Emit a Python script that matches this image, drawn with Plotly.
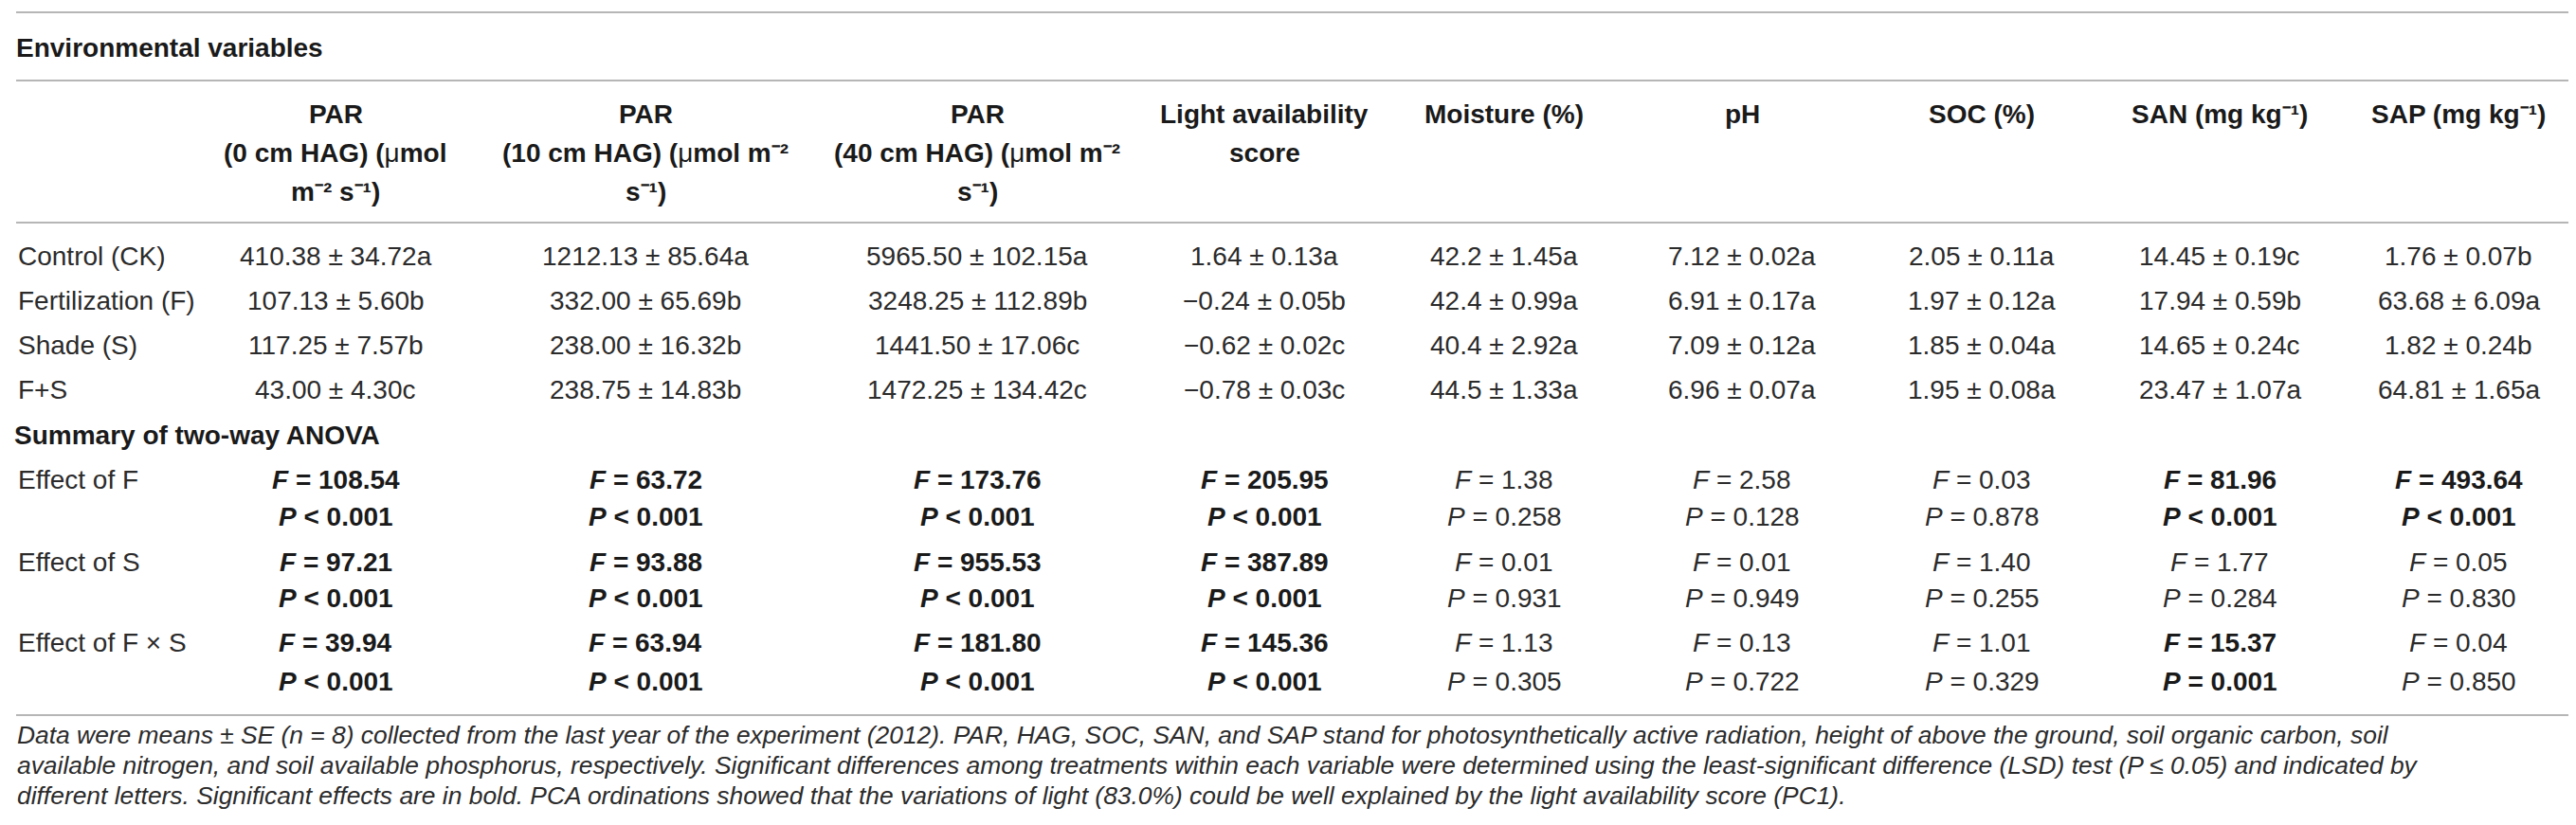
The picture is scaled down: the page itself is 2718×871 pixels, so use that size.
import plotly.graph_objects as go

# ---------------------------
# Data
# ---------------------------
TITLE = "Environmental variables"
SUMMARY_TITLE = "Summary of two-way ANOVA"

# each header cell split into its printed lines (μ is set in regular weight)
header_lines = [
    ["PAR", "(0 cm HAG) (|μ|mol", "m⁻² s⁻¹)"],
    ["PAR", "(10 cm HAG) (|μ|mol m⁻²", "s⁻¹)"],
    ["PAR", "(40 cm HAG) (|μ|mol m⁻²", "s⁻¹)"],
    ["Light availability", "score"],
    ["Moisture (%)"],
    ["pH"],
    ["SOC (%)"],
    ["SAN (mg kg⁻¹)"],
    ["SAP (mg kg⁻¹)"],
]

treatments = ["Control (CK)", "Fertilization (F)", "Shade (S)", "F+S"]

means = [
    ["410.38", "1212.13", "5965.50", "1.64", "42.2", "7.12", "2.05", "14.45", "1.76"],
    ["107.13", "332.00", "3248.25", "−0.24", "42.4", "6.91", "1.97", "17.94", "63.68"],
    ["117.25", "238.00", "1441.50", "−0.62", "40.4", "7.09", "1.85", "14.65", "1.82"],
    ["43.00", "238.75", "1472.25", "−0.78", "44.5", "6.96", "1.95", "23.47", "64.81"],
]
ses = [
    ["34.72", "85.64", "102.15", "0.13", "1.45", "0.02", "0.11", "0.19", "0.07"],
    ["5.60", "65.69", "112.89", "0.05", "0.99", "0.17", "0.12", "0.59", "6.09"],
    ["7.57", "16.32", "17.06", "0.02", "2.92", "0.12", "0.04", "0.24", "0.24"],
    ["4.30", "14.83", "134.42", "0.03", "1.33", "0.07", "0.08", "1.07", "1.65"],
]
letters = [
    ["a", "a", "a", "a", "a", "a", "a", "c", "b"],
    ["b", "b", "b", "b", "a", "a", "a", "b", "a"],
    ["b", "b", "c", "c", "a", "a", "a", "c", "b"],
    ["c", "b", "c", "c", "a", "a", "a", "a", "a"],
]

effects = ["Effect of F", "Effect of S", "Effect of F × S"]
f_values = [
    ["108.54", "63.72", "173.76", "205.95", "1.38", "2.58", "0.03", "81.96", "493.64"],
    ["97.21", "93.88", "955.53", "387.89", "0.01", "0.01", "1.40", "1.77", "0.05"],
    ["39.94", "63.94", "181.80", "145.36", "1.13", "0.13", "1.01", "15.37", "0.04"],
]
p_ops = [
    ["<", "<", "<", "<", "=", "=", "=", "<", "<"],
    ["<", "<", "<", "<", "=", "=", "=", "=", "="],
    ["<", "<", "<", "<", "=", "=", "=", "=", "="],
]
p_values = [
    ["0.001", "0.001", "0.001", "0.001", "0.258", "0.128", "0.878", "0.001", "0.001"],
    ["0.001", "0.001", "0.001", "0.001", "0.931", "0.949", "0.255", "0.284", "0.830"],
    ["0.001", "0.001", "0.001", "0.001", "0.305", "0.722", "0.329", "0.001", "0.850"],
]

footnote_lines = [
    "Data were means ± SE (n = 8) collected from the last year of the experiment (2012). PAR, HAG, SOC, SAN, and SAP stand for photosynthetically active radiation, height of above the ground, soil organic carbon, soil",
    "available nitrogen, and soil available phosphorus, respectively. Significant differences among treatments within each variable were determined using the least-significant difference (LSD) test (P ≤ 0.05) and indicated by",
    "different letters. Significant effects are in bold. PCA ordinations showed that the variations of light (83.0%) could be well explained by the light availability score (PC1).",
]

# ---------------------------
# Layout (pixels)
# ---------------------------
W, H = 2718, 871
FONT = "Liberation Sans, Arial, Helvetica, sans-serif"
FS = 28
FS_NOTE = 26.4
TXT = "#2b2b2b"
DARK = "#1a1a1a"
LINE_COL = "#9e9e9e"

COL_X = [346, 673, 1023, 1326, 1579, 1830, 2083, 2334, 2586]
LABEL_X = 9
HEADER_Y = [112, 153, 194]
ROW_Y = [262, 309, 356, 403]
SUMMARY_Y = 451
EFF_F_Y = [498, 585, 670]
EFF_P_Y = [537, 623, 711]
NOTE_Y = [768, 800, 832]
RULES_Y = [5, 77, 227, 747]

annotations = []


def add_text(x, y, text, xanchor="center", size=FS, color=TXT):
    annotations.append(dict(
        x=x, y=y, xref="x", yref="y", text=text, showarrow=False,
        xanchor=xanchor, yanchor="middle",
        font=dict(family=FONT, size=size, color=color),
    ))


def bold_header(line):
    # pieces between '|' marks stay regular weight
    parts = line.split("|")
    return "".join(f"<b>{p}</b>" if i % 2 == 0 else p
                   for i, p in enumerate(parts) if p)


add_text(7, 42, f"<b>{TITLE}</b>", xanchor="left", color=DARK)

# header
for c, lines in enumerate(header_lines):
    for k, line in enumerate(lines):
        add_text(COL_X[c], HEADER_Y[k], bold_header(line), color=DARK)

# treatment rows
for r, name in enumerate(treatments):
    add_text(LABEL_X, ROW_Y[r], name, xanchor="left")
    for c in range(len(COL_X)):
        add_text(COL_X[c], ROW_Y[r], f"{means[r][c]} ± {ses[r][c]}{letters[r][c]}")

add_text(5, SUMMARY_Y, f"<b>{SUMMARY_TITLE}</b>", xanchor="left", color=DARK)

# ANOVA rows, significant effects in bold
for r, name in enumerate(effects):
    add_text(LABEL_X, EFF_F_Y[r], name, xanchor="left")
    for c in range(len(COL_X)):
        sig = p_ops[r][c] == "<" or float(p_values[r][c]) <= 0.05
        op = "&lt;" if p_ops[r][c] == "<" else "="
        f_txt = f"<i>F</i> = {f_values[r][c]}"
        p_txt = f"<i>P</i> {op} {p_values[r][c]}"
        if sig:
            f_txt, p_txt = f"<b>{f_txt}</b>", f"<b>{p_txt}</b>"
        add_text(COL_X[c], EFF_F_Y[r], f_txt, color=DARK if sig else TXT)
        add_text(COL_X[c], EFF_P_Y[r], p_txt, color=DARK if sig else TXT)

# footnote
for k, line in enumerate(footnote_lines):
    add_text(8, NOTE_Y[k], f"<i>{line}</i>", xanchor="left", size=FS_NOTE)

shapes = [
    dict(type="line", xref="x", yref="y", x0=9, x1=2710, y0=y, y1=y,
         line=dict(color=LINE_COL, width=1.6))
    for y in RULES_Y
]

fig = go.Figure()
fig.update_layout(
    width=W, height=H,
    margin=dict(l=0, r=0, t=0, b=0),
    paper_bgcolor="white", plot_bgcolor="white",
    xaxis=dict(range=[0, W], visible=False, fixedrange=True),
    yaxis=dict(range=[H, 0], visible=False, fixedrange=True),
    annotations=annotations,
    shapes=shapes,
    showlegend=False,
)

fig.write_html("out.html", config={"displayModeBar": False})
